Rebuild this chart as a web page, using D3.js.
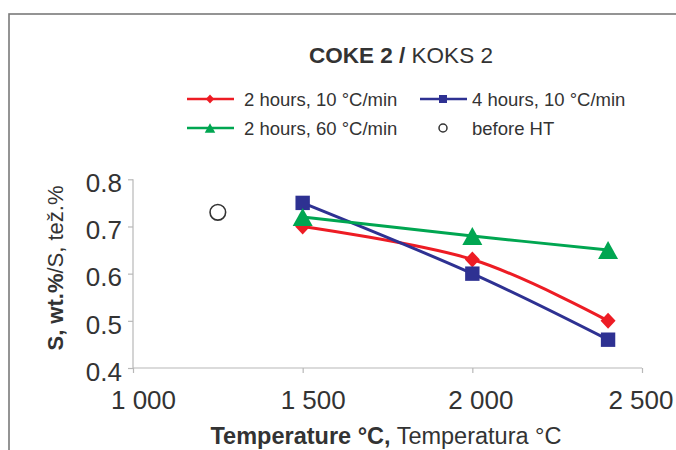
<!DOCTYPE html>
<html>
<head>
<meta charset="utf-8">
<script src="https://cdn.jsdelivr.net/npm/d3@7"></script>
<style>
	body { margin: 0; background: #fff; }
	svg { display: block; font-family: "Liberation Sans", Arial, sans-serif; }
</style>
</head>
<body>
<svg id="mainsvg" width="676" height="450"></svg>
<script>
// values
var temps = [1500, 2000, 2400];
var s2h10 = [0.70, 0.63, 0.50];
var s4h10 = [0.75, 0.60, 0.46];
var s2h60 = [0.72, 0.68, 0.65];
var beforeTemp = [1250];
var beforeS = [0.73];
var xTicks = [1000, 1500, 2000, 2500];
var yTicks = [0.4, 0.5, 0.6, 0.7, 0.8];
var seriesNames = ["2 hours, 10 °C/min", "4 hours, 10 °C/min", "2 hours, 60 °C/min", "before HT"];

var red = "#ed1c24", blue = "#2e3192", green = "#00a651", txt = "#333";

var svg = d3.select("#mainsvg");

// outer frame (runs off the right/bottom edge like the scan)
svg.append("rect")
	.attr("x", 9).attr("y", 14)
	.attr("width", 700).attr("height", 460)
	.attr("fill", "none")
	.attr("stroke", "#7a7a7a")
	.attr("stroke-width", 1.6);

var x = d3.scaleLinear().domain([1000, 2500]).range([133, 642]);
var y = d3.scaleLinear().domain([0.4, 0.8]).range([368, 179.3]);

var fmt = function(d) { return d3.format(",")(d).replace(",", " "); };

var xAxis = svg.append("g")
	.attr("transform", "translate(0,368)")
	.call(d3.axisBottom(x).tickValues(xTicks).tickSize(5).tickFormat(fmt));
var yAxis = svg.append("g")
	.attr("transform", "translate(133,0)")
	.call(d3.axisLeft(y).tickValues(yTicks).tickSize(5).tickFormat(d3.format(".1f")));

[xAxis, yAxis].forEach(function(a) {
	a.select(".domain").attr("stroke", "#b8b8b8").attr("stroke-width", 1.2);
	a.selectAll(".tick line").attr("stroke", "#b8b8b8").attr("stroke-width", 1.2);
	a.selectAll(".tick text")
		.attr("fill", txt)
		.style("font-size", "26px")
		.style("font-family", "Liberation Sans, Arial, sans-serif");
});
xAxis.select(".domain").attr("d", "M133,0H642");
yAxis.select(".domain").attr("d", "M0,179.3V368");
xAxis.selectAll(".tick text")
	.attr("dy", null).attr("y", 41)
	.attr("x", function(d) { return d === 2500 ? 31 : (d === 2000 ? 8 : 10); })
	.attr("text-anchor", function(d) { return d === 2500 ? "end" : "middle"; });
yAxis.selectAll(".tick text").attr("x", -11).attr("dy", null).attr("y", 12.3);

// titles
var title = svg.append("text")
	.attr("x", 401).attr("y", 63)
	.attr("text-anchor", "middle")
	.attr("fill", txt)
	.style("font-size", "22.5px");
title.append("tspan").attr("font-weight", "bold").text("COKE 2 /");
title.append("tspan").text(" KOKS 2");

var xt = svg.append("text")
	.attr("x", 386).attr("y", 444)
	.attr("text-anchor", "middle")
	.attr("fill", txt)
	.style("font-size", "23.5px");
xt.append("tspan").attr("font-weight", "bold").text("Temperature °C,");
xt.append("tspan").text(" Temperatura °C");

var yt = svg.append("text")
	.attr("transform", "translate(63,268) rotate(-90)")
	.attr("text-anchor", "middle")
	.attr("fill", txt)
	.style("font-size", "22px");
yt.append("tspan").attr("font-weight", "bold").text("S, wt.%");
yt.append("tspan").text("/S, tež.%");

// marker shapes
function diamond(w, h) { return "M0," + (-h) + "L" + w + ",0L0," + h + "L" + (-w) + ",0Z"; }
function square(s) { return "M" + (-s) + "," + (-s) + "H" + s + "V" + s + "H" + (-s) + "Z"; }
function triangle(w, h) { return "M0," + (-h / 2) + "L" + (w / 2) + "," + (h / 2) + "L" + (-w / 2) + "," + (h / 2) + "Z"; }

var series = [
	{ vals: s2h10, color: red, shape: diamond(7.5, 8), small: diamond(4.2, 4.6) },
	{ vals: s4h10, color: blue, shape: square(7.2), small: square(4) },
	{ vals: s2h60, color: green, shape: triangle(20, 18), small: triangle(10.5, 9.5) }
];

var line = d3.line()
	.x(function(d) { return x(d[0]); })
	.y(function(d) { return y(d[1]); })
	.curve(d3.curveCardinal.tension(0));

var plot = svg.append("g").attr("class", "plot");
series.forEach(function(s) {
	var pts = temps.map(function(t, i) { return [t, s.vals[i]]; });
	plot.append("path")
		.attr("d", line(pts))
		.attr("fill", "none")
		.attr("stroke", s.color)
		.attr("stroke-width", 3);
});
series.forEach(function(s) {
	var pts = temps.map(function(t, i) { return [t, s.vals[i]]; });
	plot.selectAll(null)
		.data(pts)
		.enter().append("path")
		.attr("d", s.shape)
		.attr("transform", function(d) { return "translate(" + x(d[0]) + "," + y(d[1]) + ")"; })
		.attr("fill", s.color);
});

plot.selectAll("circle.before")
	.data(beforeTemp.map(function(t, i) { return [t, beforeS[i]]; }))
	.enter().append("circle")
	.attr("class", "before")
	.attr("cx", function(d) { return x(d[0]); })
	.attr("cy", function(d) { return y(d[1]); })
	.attr("r", 7.8)
	.attr("fill", "#fff")
	.attr("stroke", "#333")
	.attr("stroke-width", 1.6);

// legend
var legPos = [[187, 99], [420, 99], [187, 128], [420, 128]];
var legend = svg.append("g").attr("class", "legend");
series.forEach(function(s, i) {
	var p = legPos[i];
	legend.append("line")
		.attr("x1", p[0]).attr("x2", p[0] + 47)
		.attr("y1", p[1]).attr("y2", p[1])
		.attr("stroke", s.color).attr("stroke-width", 2.5);
	legend.append("path")
		.attr("d", s.small)
		.attr("transform", "translate(" + (p[0] + 23) + "," + p[1] + ")")
		.attr("fill", s.color);
});
legend.append("circle")
	.attr("cx", legPos[3][0] + 23).attr("cy", legPos[3][1])
	.attr("r", 4)
	.attr("fill", "#fff").attr("stroke", "#333").attr("stroke-width", 1.5);
seriesNames.forEach(function(n, i) {
	legend.append("text")
		.attr("x", legPos[i][0] + (i % 2 === 0 ? 57 : 52))
		.attr("y", legPos[i][1] + 6.5)
		.attr("fill", txt)
		.style("font-size", "18.5px")
		.text(n);
});
</script>
</body>
</html>
